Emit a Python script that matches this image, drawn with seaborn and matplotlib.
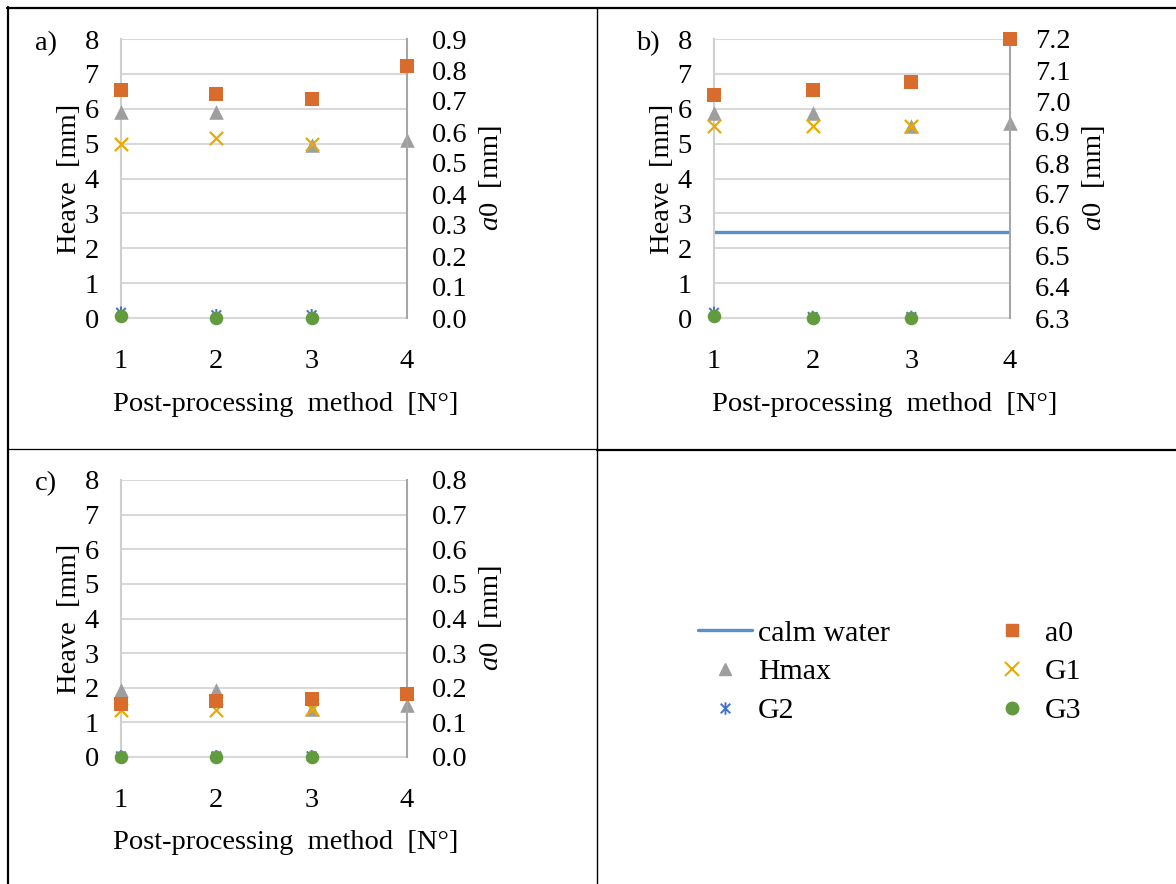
import matplotlib.pyplot as plt
import seaborn as sns
from matplotlib.lines import Line2D
from matplotlib.path import Path

# datos
metodos = [1, 2, 3, 4]

# a)
hmax_a = [5.9, 5.9, 4.95, 5.1]
g1_a = [5.0, 5.17, 5.0]
g2_a = [0.15, 0.08, 0.08]
g3_a = [0.05, 0.0, 0.0]
a0_a = [0.735, 0.723, 0.706, 0.813]

# b)
hmax_b = [5.87, 5.87, 5.5, 5.58]
g1_b = [5.5, 5.5, 5.5]
g2_b = [0.15, 0.03, 0.03]
g3_b = [0.05, 0.0, 0.0]
a0_b = [7.02, 7.035, 7.06, 7.2]
calma_x = [1, 4]
calma_b = [2.47, 2.47]

# c)
hmax_c = [1.93, 1.93, 1.4, 1.5]
g1_c = [1.35, 1.35, 1.4]
g2_c = [0.02, 0.02, 0.02]
g3_c = [0.0, 0.0, 0.0]
a0_c = [0.154, 0.161, 0.168, 0.183]

naranja = "#D86C2C"
gris = "#9E9E9E"
oro = "#E8AA00"
azul = "#4472C4"
verde = "#629A3E"
azul_linea = "#5A8FC8"

sns.set_theme(style="white")
plt.rcParams["font.family"] = ["Liberation Serif", "DejaVu Serif"]
plt.rcParams["mathtext.fontset"] = "custom"
plt.rcParams["mathtext.rm"] = "Liberation Serif"
plt.rcParams["mathtext.it"] = "Liberation Serif:italic"
for k in ["text.color", "axes.labelcolor", "xtick.color", "ytick.color"]:
    plt.rcParams[k] = "black"
fs = 20.5

estrella = Path([(-1, -1), (1, 1), (-1, 1), (1, -1), (0, -1.3), (0, 1.3)],
                [Path.MOVETO, Path.LINETO, Path.MOVETO, Path.LINETO, Path.MOVETO, Path.LINETO])

fig = plt.figure(figsize=(11.76, 8.84), dpi=100)
W, H = 1176, 884


def caja(x0, y0, x1, y1):
    return [x0 / W, 1 - y1 / H, (x1 - x0) / W, (y1 - y0) / H]


def panel(pos, hmax, g1, g2, g3, a0, lim2, calma=None):
    ax = fig.add_axes(pos)
    if calma is not None:
        sns.lineplot(x=calma_x, y=calma, color=azul_linea, lw=2.4, ax=ax, zorder=2)
    sns.scatterplot(x=metodos[:len(hmax)], y=hmax, marker="^", s=110, color=gris,
                    linewidth=0, ax=ax, clip_on=False, zorder=3)
    sns.scatterplot(x=metodos[:len(g1)], y=g1, marker="x", s=90, color=oro,
                    linewidth=1.6, ax=ax, clip_on=False, zorder=4)
    sns.scatterplot(x=metodos[:len(g2)], y=g2, marker=estrella, s=80, color=azul,
                    edgecolor=azul, facecolor="none", linewidth=1.4, ax=ax, clip_on=False, zorder=5)
    sns.scatterplot(x=metodos[:len(g3)], y=g3, marker="o", s=95, color=verde,
                    linewidth=0, ax=ax, clip_on=False, zorder=6)
    ax.set_xlim(1, 4)
    ax.set_ylim(0, 8)
    ax.set_xticks(metodos)
    ax.set_yticks(range(0, 9))
    ax.grid(axis="y", color="#D9D9D9", lw=1.5)
    ax.grid(axis="x", visible=False)
    for s in ["top", "right"]:
        ax.spines[s].set_visible(False)
    ax.spines["left"].set_color("#CFCFCF")
    ax.spines["left"].set_linewidth(1.5)
    ax.spines["bottom"].set_color("#D9D9D9")
    ax.spines["bottom"].set_linewidth(1.5)
    ax.tick_params(axis="y", length=0, pad=16, labelsize=fs)
    ax.tick_params(axis="x", length=0, pad=22, labelsize=fs)
    ax.set_xlabel("Post-processing  method  [N°]", fontsize=fs)
    ax.xaxis.set_label_coords(0.575, -0.265)
    ax.set_ylabel("Heave  [mm]", fontsize=fs, labelpad=2)

    ax2 = ax.twinx()
    sns.scatterplot(x=metodos, y=a0, marker="s", s=100, color=naranja,
                    linewidth=0, ax=ax2, clip_on=False, zorder=7)
    ax2.set_ylim(*lim2)
    paso = 0.1
    n = int(round((lim2[1] - lim2[0]) / paso))
    ax2.set_yticks([lim2[0] + i * paso for i in range(n + 1)])
    ax2.set_yticklabels([f"{lim2[0] + i * paso:.1f}" for i in range(n + 1)])
    for s in ["top", "left", "bottom"]:
        ax2.spines[s].set_visible(False)
    ax2.spines["right"].set_color("#A6A6A6")
    ax2.spines["right"].set_linewidth(1.5)
    ax2.tick_params(axis="y", length=0, pad=18, labelsize=fs)
    ax2.set_ylabel("$\\mathit{a}$0  [mm]", fontsize=fs, labelpad=7)
    ax2.grid(False)
    return ax


panel(caja(121, 39, 407, 318), hmax_a, g1_a, g2_a, g3_a, a0_a, (0.0, 0.9))
panel(caja(714, 39, 1010, 318), hmax_b, g1_b, g2_b, g3_b, a0_b, (6.3, 7.2), calma=calma_b)
panel(caja(121, 480, 407, 757), hmax_c, g1_c, g2_c, g3_c, a0_c, (0.0, 0.8))

fig.text(35 / W, 1 - 44 / H, "a)", fontsize=fs, va="center", ha="left")
fig.text(636 / W, 1 - 44 / H, "b)", fontsize=fs, va="center", ha="left")
fig.text(35 / W, 1 - 484 / H, "c)", fontsize=fs, va="center", ha="left")

# leyenda
h_calma = Line2D([], [], color=azul_linea, lw=2.4)
h_hmax = Line2D([], [], marker="^", ls="none", color=gris, markersize=9)
h_g2 = Line2D([], [], marker=estrella, ls="none", color=azul, markersize=9, mew=1.4, fillstyle="none")
h_a0 = Line2D([], [], marker="s", ls="none", color=naranja, markersize=9)
h_g1 = Line2D([], [], marker="x", ls="none", color=oro, markersize=10, mew=1.5)
h_g3 = Line2D([], [], marker="o", ls="none", color=verde, markersize=9)
fig.legend(handles=[h_calma, h_hmax, h_g2, h_a0, h_g1, h_g3],
           labels=["calm water", "Hmax", "G2", "a0", "G1", "G3"],
           ncol=2, loc="center", bbox_to_anchor=(890 / W, 1 - 672 / H), frameon=False,
           fontsize=21.5, handlelength=1.8, handletextpad=0.2, columnspacing=3.2,
           labelspacing=0.4)

# bordes de la tabla
def linea(x0, y0, x1, y1, lw):
    fig.add_artist(Line2D([x0 / W, x1 / W], [1 - y0 / H, 1 - y1 / H],
                          transform=fig.transFigure, color="black", lw=lw))

linea(7, 7.5, W, 7.5, 1.6)
linea(7.5, 7, 7.5, H, 1.6)
linea(596.5, 7, 596.5, H, 1.0)
linea(7, 449, 596.5, 449, 0.9)
linea(596.5, 449.5, W, 449.5, 1.6)

plt.savefig("out.png", dpi=100)
plt.close()
